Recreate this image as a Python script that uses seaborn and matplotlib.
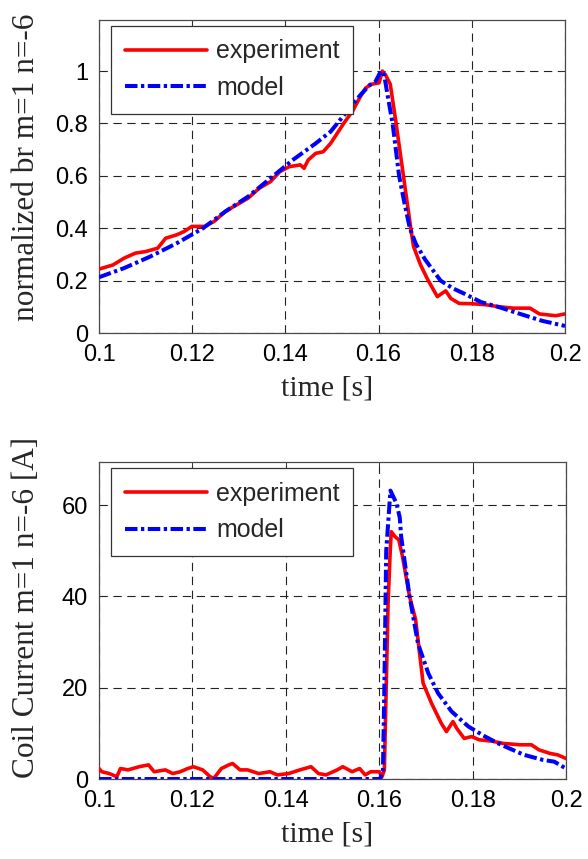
import matplotlib
matplotlib.use("Agg")
import matplotlib.pyplot as plt
import seaborn as sns
import pandas as pd

# ---------------- data ----------------
top_t_exp = [0.100, 0.103, 0.1054, 0.1078, 0.110, 0.1126, 0.1143, 0.1167, 0.1183, 0.1199,
             0.1227, 0.1247, 0.1271, 0.1295, 0.132, 0.1344, 0.1368, 0.1388, 0.1408, 0.1432,
             0.144, 0.1449, 0.1465, 0.1481, 0.1497, 0.1525, 0.1545, 0.156, 0.1572, 0.1585,
             0.1601, 0.1608, 0.1615, 0.1625, 0.1637, 0.1653, 0.1669, 0.1675, 0.169, 0.1706,
             0.1726, 0.1744, 0.1755, 0.1773, 0.180, 0.183, 0.186, 0.189, 0.1925, 0.1945,
             0.198, 0.200]
top_v_exp = [0.244, 0.26, 0.286, 0.305, 0.311, 0.324, 0.362, 0.375, 0.388, 0.407,
             0.407, 0.426, 0.464, 0.489, 0.515, 0.553, 0.578, 0.616, 0.635, 0.642,
             0.629, 0.661, 0.686, 0.692, 0.724, 0.80, 0.85, 0.90, 0.935, 0.95,
             0.955, 1.0, 0.985, 0.95, 0.807, 0.603, 0.40, 0.33, 0.26, 0.202,
             0.139, 0.161, 0.132, 0.113, 0.112, 0.108, 0.100, 0.095, 0.095, 0.073,
             0.066, 0.073]

top_t_mod = [0.100, 0.1054, 0.111, 0.1167, 0.1223, 0.1271, 0.132, 0.1368, 0.1416, 0.1465,
             0.1497, 0.1529, 0.1561, 0.1581, 0.1593, 0.1605, 0.1612, 0.162, 0.163, 0.1637,
             0.1644, 0.1655, 0.1667, 0.168, 0.170, 0.1733, 0.176, 0.1783, 0.182, 0.186,
             0.190, 0.195, 0.200]
top_v_mod = [0.213, 0.248, 0.292, 0.343, 0.40, 0.464, 0.521, 0.591, 0.661, 0.724,
             0.769, 0.839, 0.909, 0.947, 0.959, 1.0, 0.985, 0.90, 0.80, 0.70,
             0.60, 0.50, 0.40, 0.34, 0.28, 0.20, 0.17, 0.151, 0.118, 0.098,
             0.075, 0.047, 0.027]

bot_t_exp = [0.100, 0.1006, 0.1022, 0.1038, 0.1046, 0.1062, 0.1086, 0.1106, 0.1118, 0.1142,
             0.1158, 0.1174, 0.119, 0.1202, 0.1222, 0.1238, 0.1246, 0.1262, 0.1278, 0.1286,
             0.1302, 0.1318, 0.1342, 0.1366, 0.1382, 0.1406, 0.143, 0.1454, 0.147, 0.1486,
             0.151, 0.1522, 0.1542, 0.1558, 0.157, 0.1582, 0.16, 0.1606, 0.1611, 0.1619,
             0.1624, 0.1626, 0.1634, 0.1642, 0.165, 0.1665, 0.1678, 0.1694, 0.1712, 0.1733,
             0.1744, 0.1758, 0.1766, 0.1782, 0.1798, 0.1814, 0.1841, 0.1866, 0.1902, 0.1926,
             0.1942, 0.1966, 0.1982, 0.200]
bot_v_exp = [2.3, 1.6, 1.2, 0.5, 2.3, 2.0, 2.7, 3.1, 1.6, 2.0,
             1.2, 1.6, 2.3, 2.7, 2.0, 0.5, 0.15, 2.3, 3.1, 3.4,
             2.0, 2.0, 1.2, 1.6, 0.9, 1.2, 2.0, 2.7, 1.2, 0.9,
             2.0, 2.7, 1.6, 2.3, 0.9, 1.6, 1.6, 0.5, 2.0, 38.5,
             51.0, 54.2, 53.1, 52.4, 48.7, 40.0, 34.9, 21.0, 16.6, 12.2,
             10.4, 12.6, 11.1, 8.9, 9.3, 8.6, 8.3, 7.8, 7.5, 7.5,
             6.4, 5.6, 5.3, 4.5]

bot_t_mod = [0.100, 0.1602, 0.1608, 0.1611, 0.1615, 0.1624, 0.1637, 0.1644, 0.1647, 0.1655,
             0.1665, 0.1683, 0.1705, 0.1726, 0.1755, 0.1791, 0.1827, 0.1855, 0.187, 0.191,
             0.195, 0.1975, 0.200]
bot_v_mod = [0.0, 0.0, 2.0, 20.0, 50.0, 63.2, 60.4, 57.3, 53.1, 47.3,
             40.0, 29.7, 23.2, 18.8, 14.8, 11.5, 9.3, 7.8, 7.1, 5.3,
             4.2, 3.8, 2.3]

top_yticks = [0, 0.2, 0.4, 0.6, 0.8, 1.0]
top_yticklabels = ["0", "0.2", "0.4", "0.6", "0.8", "1"]
bot_yticks = [0, 20, 40, 60]
bot_yticklabels = ["0", "20", "40", "60"]
xticks = [0.1, 0.12, 0.14, 0.16, 0.18, 0.2]
xticklabels = ["0.1", "0.12", "0.14", "0.16", "0.18", "0.2"]

legend_labels = ["experiment", "model"]
top_ylabel = "normalized br m=1 n=-6"
bot_ylabel = "Coil Current m=1 n=-6 [A]"
xlabel = "time [s]"

# ---------------- style ----------------
sns.set_theme(style="white")
plt.rcParams["font.family"] = ["Liberation Sans", "DejaVu Sans"]
plt.rcParams["lines.scale_dashes"] = False
plt.rcParams["axes.edgecolor"] = "#4a4a4a"
plt.rcParams["axes.linewidth"] = 0.9

fig = plt.figure(figsize=(5.88, 8.59), dpi=100)
ax1 = fig.add_axes([0.1684, 0.6123, 0.7925, 0.3644])
ax2 = fig.add_axes([0.1684, 0.0931, 0.7942, 0.3687])

RED = "#ff0000"
BLUE = "#0000ff"
dashdot = (0, (9, 2.5, 2.4, 2.5))

def draw(ax, te, ve, tm, vm, ylim, yticks, yticklabels, ylabel, ylab_y):
    df_e = pd.DataFrame({"t": te, "v": ve})
    df_m = pd.DataFrame({"t": tm, "v": vm})
    sns.lineplot(data=df_e, x="t", y="v", ax=ax, color=RED, linewidth=2.6,
                 estimator=None, sort=False, label=legend_labels[0], zorder=3)
    sns.lineplot(data=df_m, x="t", y="v", ax=ax, color=BLUE, linewidth=2.9,
                 linestyle=dashdot, estimator=None, sort=False,
                 label=legend_labels[1], zorder=4)
    ax.set_xlim(0.1, 0.2)
    ax.set_ylim(*ylim)
    ax.set_xticks(xticks)
    ax.set_xticklabels(xticklabels)
    ax.set_yticks(yticks)
    ax.set_yticklabels(yticklabels)
    ax.tick_params(direction="in", length=4, width=0.7, top=True, right=True,
                   labelsize=17, pad=8, colors="#333333", labelcolor="black")
    ax.grid(True, color="#222222", linestyle=(0, (6, 4)), linewidth=0.8)
    ax.set_axisbelow(True)
    ax.set_xlabel(xlabel, fontfamily="Liberation Serif", fontsize=21.5)
    ax.set_ylabel(ylabel, fontfamily="Liberation Serif", fontsize=22.5)
    ax.xaxis.set_label_coords(0.489, -0.135)
    ax.yaxis.set_label_coords(-0.125, ylab_y)
    for s in ax.spines.values():
        s.set_visible(True)
    leg = ax.legend(loc="upper left", bbox_to_anchor=(0.0258, 0.982),
                    borderaxespad=0, fontsize=18, frameon=True, fancybox=False,
                    framealpha=1, edgecolor="#333333", handlelength=3.3,
                    handletextpad=0.35, borderpad=0.55, labelspacing=0.5)
    leg.get_frame().set_linewidth(0.9)

draw(ax1, top_t_exp, top_v_exp, top_t_mod, top_v_mod, (0, 1.195),
     top_yticks, top_yticklabels, top_ylabel, 0.53)
draw(ax2, bot_t_exp, bot_v_exp, bot_t_mod, bot_v_mod, (0, 69.4),
     bot_yticks, bot_yticklabels, bot_ylabel, 0.5415)

fig.savefig("out.png", dpi=100)
